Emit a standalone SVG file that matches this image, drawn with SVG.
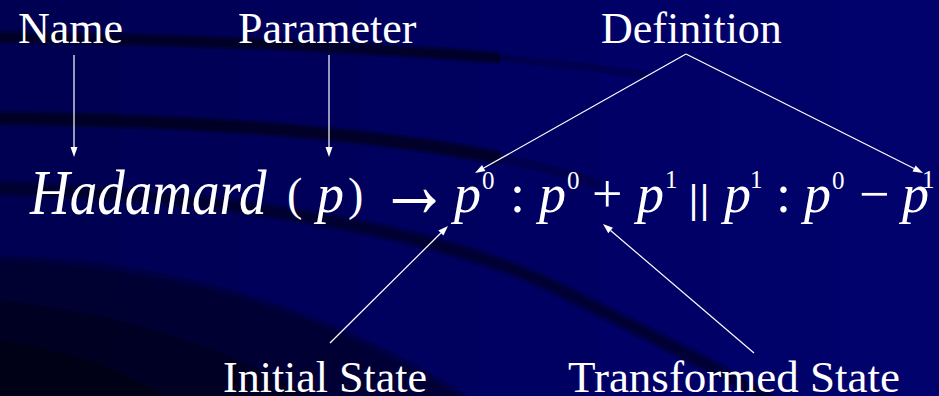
<svg xmlns="http://www.w3.org/2000/svg" width="939" height="396" viewBox="0 0 939 396">
<style>
.lbl{font-family:"Liberation Serif",serif;font-size:44px;fill:#ffffff}
.eq{font-family:"Liberation Serif",serif;fill:#ffffff}
.con{stroke:#ffffff;stroke-width:1.2;fill:none}
.head{fill:#ffffff}
.sw{fill:none;stroke:#000018}
</style>
<g id="background">
<rect x="0" y="0" width="130" height="396" fill="#000052"/>
<rect x="120" y="0" width="130" height="396" fill="#000056"/>
<rect x="240" y="0" width="130" height="396" fill="#00005a"/>
<rect x="360" y="0" width="130" height="396" fill="#00005e"/>
<rect x="480" y="0" width="130" height="396" fill="#000062"/>
<rect x="600" y="0" width="130" height="396" fill="#000066"/>
<rect x="720" y="0" width="130" height="396" fill="#01016a"/>
<rect x="840" y="0" width="99" height="396" fill="#02026d"/>
<path class="sw" d="M -20 37 Q 250 39 500 58" stroke-width="14" stroke-opacity="0.35"/>
<path class="sw" d="M -20 37 Q 250 39 500 58" stroke-width="8" stroke-opacity="0.6"/>
<path class="sw" d="M 500 58 Q 580 65 650 76" stroke-width="8" stroke-opacity="0.25"/>
<path class="sw" d="M -20 118 Q 300 120 500 158" stroke-width="16" stroke-opacity="0.35"/>
<path class="sw" d="M -20 118 Q 300 120 500 158" stroke-width="10" stroke-opacity="0.6"/>
<path class="sw" d="M 500 158 Q 550 168 600 185" stroke-width="10" stroke-opacity="0.25"/>
<path class="sw" d="M -20 188 C 200 193 430 225 560 290 S 760 390 800 420" stroke-width="16" stroke-opacity="0.3"/>
<path class="sw" d="M -20 188 C 200 193 430 225 560 290 S 760 390 800 420" stroke-width="9" stroke-opacity="0.45"/>
<path d="M 0 262 Q 260 268 465 400 L 0 400 Z" fill="#00001c" fill-opacity="0.4"/>
<path d="M 0 255 Q 262 262 475 400 L 0 400 Z" fill="#00001c" fill-opacity="0.3"/>
<path d="M 0 300 Q 180 320 320 400 L 0 400 Z" fill="#000008" fill-opacity="0.35"/>
<path d="M 0 340 Q 100 355 170 400 L 0 400 Z" fill="#000005" fill-opacity="0.4"/>
</g>
<g id="connectors">
<line class="con" x1="74" y1="55" x2="74" y2="147"/>
<polygon class="head" points="74,157 70.5,147 77.5,147"/>
<line class="con" x1="329" y1="55" x2="329" y2="147"/>
<polygon class="head" points="329,157 325.5,147 332.5,147"/>
<line class="con" x1="686" y1="54" x2="483.7" y2="168.1"/>
<polygon class="head" points="475,173 485.4,171.1 482,165"/>
<line class="con" x1="686" y1="54" x2="914.1" y2="168.5"/>
<polygon class="head" points="923,173 912.5,171.6 915.6,165.4"/>
<line class="con" x1="330" y1="343" x2="440.9" y2="233"/>
<polygon class="head" points="448,226 443.4,235.5 438.4,230.5"/>
<line class="con" x1="754" y1="353" x2="610.6" y2="230.5"/>
<polygon class="head" points="603,224 612.9,227.8 608.3,233.2"/>
</g>
<g id="name"><text class="lbl" x="18" y="43">Name</text></g>
<g id="parameter"><text class="lbl" x="238" y="43">Parameter</text></g>
<g id="definition"><text class="lbl" x="601" y="43">Definition</text></g>
<g id="initial-state"><text class="lbl" x="223" y="392">Initial State</text></g>
<g id="transformed-state"><text class="lbl" x="568" y="392" style="font-size:45px">Transformed State</text></g>
<g id="equation" class="eq">
<text font-style="italic" font-size="64" transform="translate(30,214) scale(0.86,1)">Hadamard</text>
<text font-size="46" x="287" y="210">(</text>
<text font-style="italic" font-size="54" x="317" y="212">p</text>
<text font-size="46" x="348" y="210">)</text>
<text font-size="96" transform="translate(378,217) scale(0.75,1)">→</text>
<text font-style="italic" font-size="54" x="454" y="212">p</text>
<text font-size="25" x="482" y="189">0</text>
<text font-size="54" x="510" y="212">:</text>
<text font-style="italic" font-size="54" x="539" y="212">p</text>
<text font-size="25" x="567" y="189">0</text>
<text font-size="54" x="592" y="212">+</text>
<text font-style="italic" font-size="54" x="637" y="212">p</text>
<text font-size="25" x="665" y="188">1</text>
<text font-size="41" font-weight="bold" letter-spacing="2" x="689" y="212">||</text>
<text font-style="italic" font-size="54" x="724" y="212">p</text>
<text font-size="25" x="750" y="188">1</text>
<text font-size="54" x="776" y="212">:</text>
<text font-style="italic" font-size="54" x="804" y="212">p</text>
<text font-size="25" x="832" y="189">0</text>
<text font-size="54" x="859" y="212">−</text>
<text font-style="italic" font-size="54" x="902" y="212">p</text>
<text font-size="25" x="922" y="188">1</text>
</g>
</svg>
